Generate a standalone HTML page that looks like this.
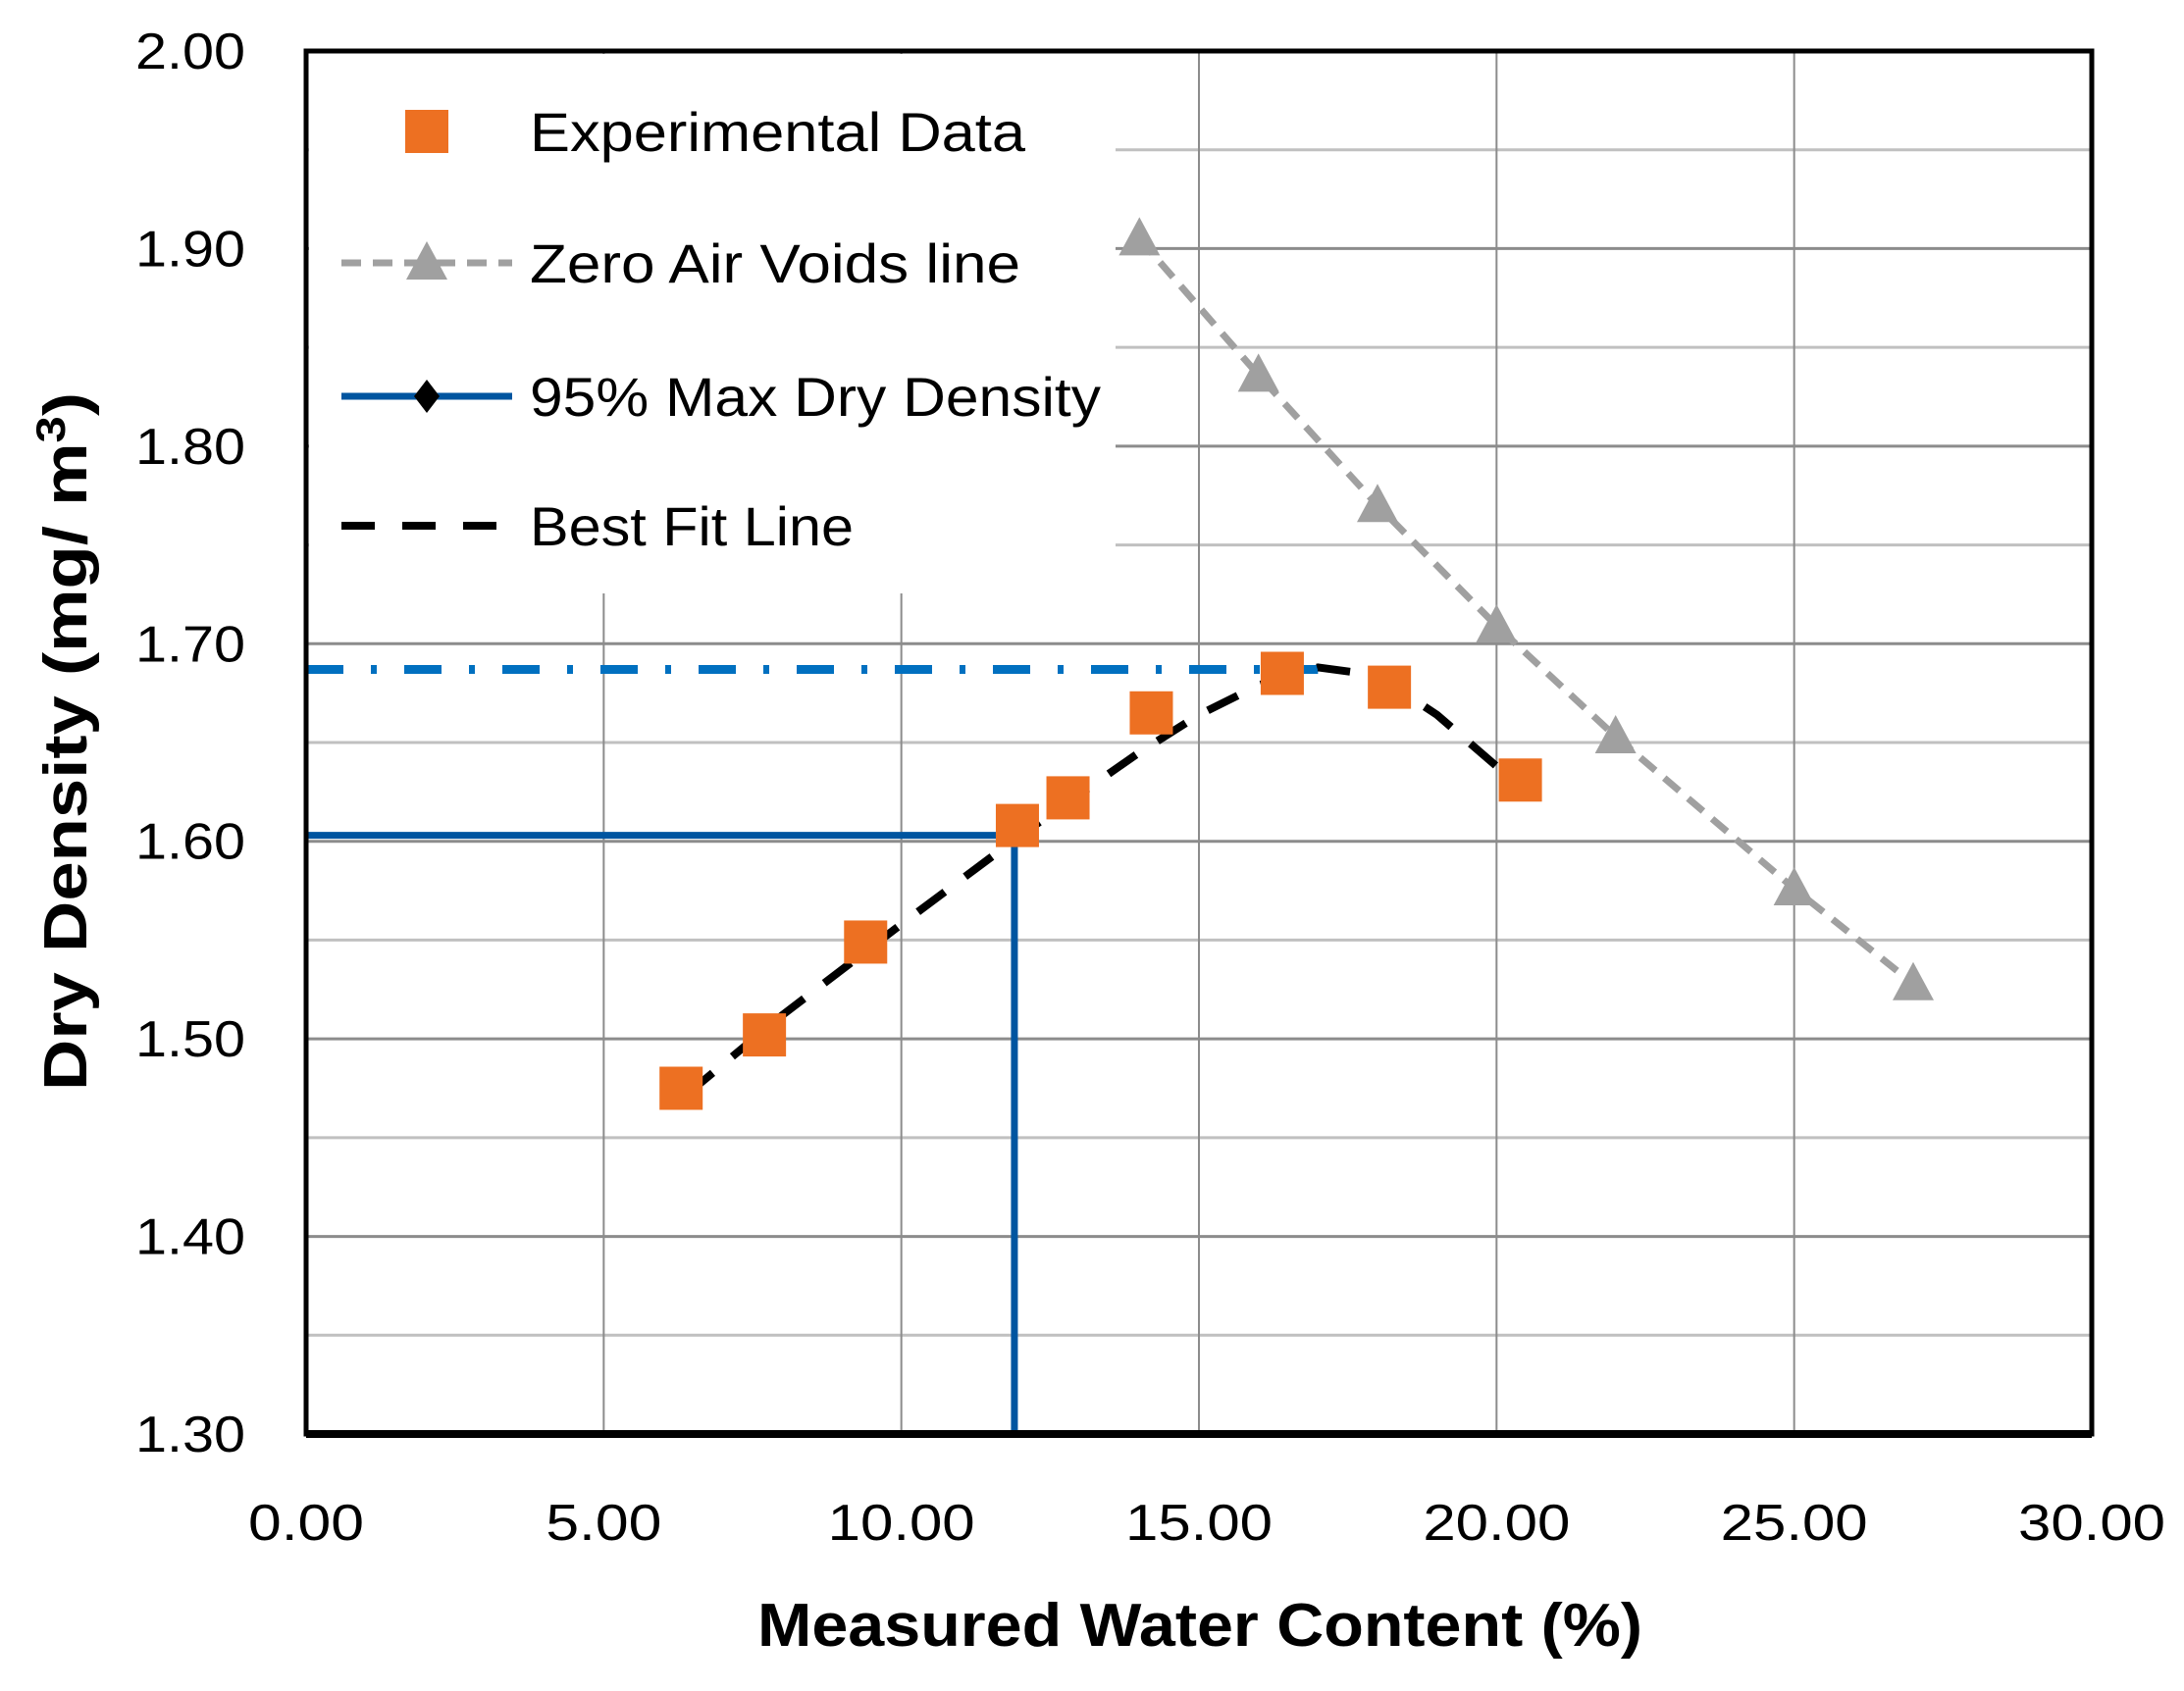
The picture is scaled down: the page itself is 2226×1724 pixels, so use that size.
<!DOCTYPE html>
<html><head><meta charset="utf-8"><style>
html,body{margin:0;padding:0;background:#fff;}
svg{display:block;font-family:"Liberation Sans",sans-serif;}
</style></head><body>
<svg id="chart" width="2226" height="1724" viewBox="0 0 2226 1724" xmlns="http://www.w3.org/2000/svg">
<g id="grid"></g>
<g id="series"></g>
<g id="legend"></g>
<g id="axes"></g>
</svg>
<script>
const xTicks=[0,5,10,15,20,25,30];
const xTickLabels=["0.00","5.00","10.00","15.00","20.00","25.00","30.00"];
const yTicks=[1.3,1.4,1.5,1.6,1.7,1.8,1.9,2.0];
const yTickLabels=["1.30","1.40","1.50","1.60","1.70","1.80","1.90","2.00"];
const expX=[6.3,7.7,9.4,11.95,12.8,14.2,16.4,18.2,20.4];
const expY=[1.475,1.502,1.549,1.608,1.622,1.665,1.685,1.678,1.631];
const zavX=[14,16,18,20,22,25,27];
const zavY=[1.905,1.836,1.770,1.709,1.653,1.576,1.528];
const fitX=[6.4,8,10,12,14,15,16,17,18,19,20];
const fitY=[1.472,1.512,1.558,1.603,1.645,1.664,1.679,1.688,1.684,1.664,1.638];
const maxDD=[1.687];
const maxDDx=[0,17];
const d95=[1.603];
const w95=[11.9];

const L=312,R=2132,T=52,B=1462;
const xs=v=>L+(v-0)/(30-0)*(R-L);
const ys=v=>B-(v-1.3)/(2.0-1.3)*(B-T);
const NS="http://www.w3.org/2000/svg";
function mk(tag,attrs,parent,text){const e=document.createElementNS(NS,tag);for(const k in attrs)e.setAttribute(k,attrs[k]);if(text!==undefined)e.textContent=text;parent.appendChild(e);return e;}
const grid=document.getElementById('grid'),series=document.getElementById('series'),legend=document.getElementById('legend'),axes=document.getElementById('axes');

for(let i=0;i<yTicks.length-1;i++){const v=(yTicks[i]+yTicks[i+1])/2;
 const g=mk('line',{x1:L,x2:R,y1:ys(v),y2:ys(v),stroke:'#c0c0c0','stroke-width':3},grid);
 
 }
yTicks.forEach(v=>{const g=mk('line',{x1:L,x2:R,y1:ys(v),y2:ys(v),stroke:'#8c8c8c','stroke-width':3},grid);
 
 });
xTicks.forEach(v=>{const g=mk('line',{x1:xs(v),x2:xs(v),y1:T,y2:B,stroke:'#8c8c8c','stroke-width':2},grid);
 
 });

const lb=mk('rect',{x:L+3,y:T+3,width:822,height:550,fill:'#fff'},legend);



const md=mk('line',{x1:xs(maxDDx[0]),x2:xs(maxDDx[1]),y1:ys(maxDD[0]),y2:ys(maxDD[0]),stroke:'#0070C0','stroke-width':9,'stroke-dasharray':'38 28 6 28'},series);


const p95=mk('polyline',{points:`${xs(0)},${ys(d95[0])} ${xs(w95[0])},${ys(d95[0])} ${xs(w95[0])},${ys(1.3)}`,fill:'none',stroke:'#0055A0','stroke-width':7},series);


const zp=mk('polyline',{points:zavX.map((x,i)=>xs(x)+','+ys(zavY[i])).join(' '),fill:'none',stroke:'#a0a0a0','stroke-width':7,'stroke-dasharray':'20 12'},series);


zavX.forEach((x,i)=>{const cx=xs(x),cy=ys(zavY[i]);
 const t=mk('polygon',{points:`${cx},${cy-22} ${cx-21},${cy+17} ${cx+21},${cy+17}`,fill:'#a0a0a0'},series);
 
 });
const fp=mk('polyline',{points:fitX.map((x,i)=>xs(x)+','+ys(fitY[i])).join(' '),fill:'none',stroke:'#000','stroke-width':8,'stroke-dasharray':'34 26'},series);


expX.forEach((x,i)=>{const s=mk('rect',{x:xs(x)-22,y:ys(expY[i])-22,width:44,height:44,fill:'#ED7022'},series);
 
 });

const ly=[134,268,404,536];
let e=mk('rect',{x:413,y:ly[0]-22,width:44,height:44,fill:'#ED7022'},legend);

e=mk('line',{x1:348,x2:522,y1:ly[1],y2:ly[1],stroke:'#a0a0a0','stroke-width':7,'stroke-dasharray':'20 12'},legend);

e=mk('polygon',{points:`435,${ly[1]-22} 414,${ly[1]+17} 456,${ly[1]+17}`,fill:'#a0a0a0'},legend);

e=mk('line',{x1:348,x2:522,y1:ly[2],y2:ly[2],stroke:'#0055A0','stroke-width':7},legend);

e=mk('polygon',{points:`435,${ly[2]-17} 448,${ly[2]} 435,${ly[2]+17} 422,${ly[2]}`,fill:'#000'},legend);

e=mk('line',{x1:348,x2:522,y1:ly[3],y2:ly[3],stroke:'#000','stroke-width':8,'stroke-dasharray':'34 28'},legend);

const lt=["Experimental Data","Zero Air Voids line","95% Max Dry Density","Best Fit Line"];
const lw=[505,500,582,330];
lt.forEach((t,i)=>{const x=mk('text',{x:540,y:ly[i]+20,'font-size':56,fill:'#000',textLength:lw[i],lengthAdjust:'spacingAndGlyphs'},legend,t);
 
 });

const fr=mk('rect',{x:L,y:T,width:R-L,height:B-T,fill:'none',stroke:'#000','stroke-width':5},axes);

const bl=mk('line',{x1:L,x2:R,y1:B,y2:B,stroke:'#000','stroke-width':8},axes);

yTicks.forEach((v,i)=>{const t=mk('text',{x:250,y:ys(v)+18,'font-size':52,'text-anchor':'end',fill:'#000',textLength:112,lengthAdjust:'spacingAndGlyphs'},axes,yTickLabels[i]);
 
 });
xTicks.forEach((v,i)=>{const w=xTickLabels[i].length>4?150:118;
 const t=mk('text',{x:xs(v)-w/2,y:1570,'font-size':52,fill:'#000',textLength:w,lengthAdjust:'spacingAndGlyphs'},axes,xTickLabels[i]);
 
 });
let xt=mk('text',{x:772,y:1678,'font-size':62,'font-weight':'bold',fill:'#000',textLength:902,lengthAdjust:'spacingAndGlyphs'},axes,'Measured Water Content (%)');

let yt=mk('text',{x:0,y:0,'font-size':62,'font-weight':'bold',fill:'#000',transform:'translate(88,1112) rotate(-90)',textLength:712,lengthAdjust:'spacingAndGlyphs'},axes);

yt.appendChild(document.createTextNode('Dry Density (mg/ m'));
const sup=document.createElementNS(NS,'tspan');sup.setAttribute('dy','-22');sup.setAttribute('font-size','42');sup.textContent='3';yt.appendChild(sup);
const cl=document.createElementNS(NS,'tspan');cl.setAttribute('dy','22');cl.textContent=')';yt.appendChild(cl);
</script>
</body></html>
